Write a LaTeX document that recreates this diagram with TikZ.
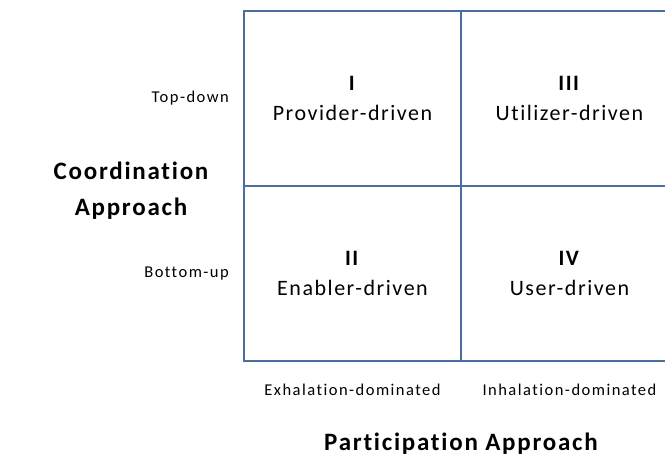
\documentclass[tikz,border=0pt]{standalone}
\usepackage{fontspec}
\setmainfont{Carlito}[LetterSpace=7, Ligatures=NoCommon]
\newfontfamily\labelfont{Carlito}[LetterSpace=9, Ligatures=NoCommon]
\usetikzlibrary{positioning}
\definecolor{gridblue}{RGB}{74,110,160}

\begin{document}
\begin{tikzpicture}[x=1pt, y=-1pt,
    cell/.style={draw=gridblue, line width=1.6pt, outer sep=0pt, inner sep=0pt,
      minimum width=217pt, minimum height=175pt, align=center,
      font=\fontsize{22}{30}\selectfont},
    level/.style={font=\labelfont\fontsize{16.5}{18}\selectfont, inner sep=0pt},
    axis/.style={font=\bfseries\fontsize{25}{36}\selectfont, align=center, inner sep=0pt}]
    \useasboundingbox (0,0) rectangle (665,456);
    \clip (0,0) rectangle (665,456);
    % Quadrants
    \node[cell] (q1) at (352.5,98.5) {\textbf{I}\\Provider-driven};
    \node[cell, below=0pt of q1] (q2) {\textbf{II}\\Enabler-driven};
    \node[cell, right=0pt of q1] (q3) {\textbf{III}\\Utilizer-driven};
    \node[cell, right=0pt of q2] (q4) {\textbf{IV}\\User-driven};
    %
    % Row labels
    \node[level, left=15pt of q1] (top) {Top-down};
    \node[level, left=15pt of q2] (bottom) {Bottom-up};
    \node[axis] (coord) at (131,191) {Coordination\\Approach};
    %
    % Column labels
    \node[level, below=23pt of q2] (exh) {Exhalation-dominated};
    \node[level, below=23pt of q4] (inh) {Inhalation-dominated};
    \node[axis, below=72pt of q2.south east] (part) {Participation Approach};
\end{tikzpicture}
\end{document}
